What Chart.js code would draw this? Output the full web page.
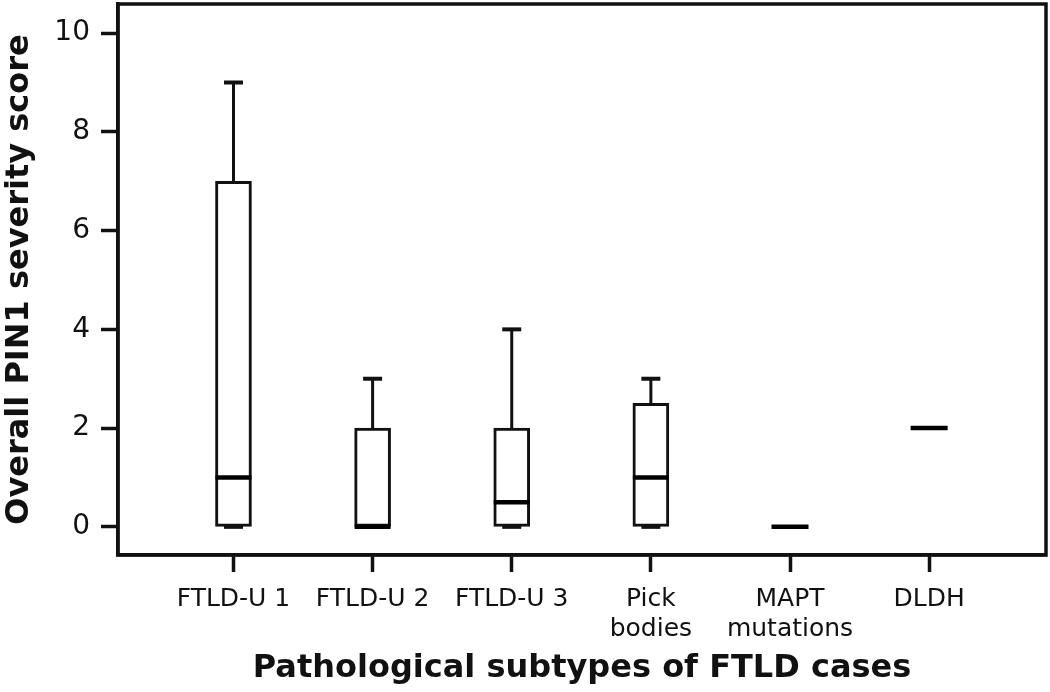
<!DOCTYPE html>
<html>
<head>
<meta charset="utf-8">
<script src="https://cdn.jsdelivr.net/npm/chart.js@4/dist/chart.umd.min.js"></script>
<style>
html,body{margin:0;padding:0;background:#fff;}
#wrap{width:1050px;height:692px;}
</style>
</head>
<body>
<div id="wrap"><canvas id="c" width="1050" height="692"></canvas></div>
<script>
const categories = ['FTLD-U 1', 'FTLD-U 2', 'FTLD-U 3', ['Pick', 'bodies'], ['MAPT', 'mutations'], 'DLDH'];
const positions = [1, 2, 3, 4, 5, 6];
const mins    = [0, 0, 0,   0,   0, 2];
const q1s     = [0, 0, 0,   0,   0, 2];
const medians = [1, 0, 0.5, 1,   0, 2];
const q3s     = [7, 2, 2,   2.5, 0, 2];
const maxs    = [9, 3, 4,   3,   0, 2];
const yTicks  = [0, 2, 4, 6, 8, 10];

const FONT = "'DejaVu Sans', 'Liberation Sans', sans-serif";
const INK = '#111';

const boxPlugin = {
  id: 'boxExtras',
  afterDatasetsDraw(chart) {
    const ctx = chart.ctx, xs = chart.scales.x, ys = chart.scales.y;
    ctx.save();
    ctx.strokeStyle = INK;
    positions.forEach((p, i) => {
      const x = xs.getPixelForValue(p);
      const half = 18, capHalf = 9.5;
      ctx.lineCap = 'butt';
      if (maxs[i] > q3s[i]) {
        ctx.lineWidth = 3;
        ctx.beginPath();
        ctx.moveTo(x, ys.getPixelForValue(q3s[i]));
        ctx.lineTo(x, ys.getPixelForValue(maxs[i]));
        ctx.stroke();
        ctx.lineWidth = 4;
        ctx.beginPath();
        ctx.moveTo(x - capHalf, ys.getPixelForValue(maxs[i]));
        ctx.lineTo(x + capHalf, ys.getPixelForValue(maxs[i]));
        ctx.stroke();
      }
      if (q3s[i] > q1s[i]) {
        if (mins[i] < q1s[i]) {
          ctx.lineWidth = 3;
          ctx.beginPath();
          ctx.moveTo(x, ys.getPixelForValue(q1s[i]));
          ctx.lineTo(x, ys.getPixelForValue(mins[i]));
          ctx.stroke();
        }
        ctx.lineWidth = 4;
        ctx.beginPath();
        ctx.moveTo(x - capHalf, ys.getPixelForValue(mins[i]));
        ctx.lineTo(x + capHalf, ys.getPixelForValue(mins[i]));
        ctx.stroke();
      }
      ctx.lineWidth = 4.5;
      ctx.strokeStyle = '#000';
      ctx.beginPath();
      const mh = (q3s[i] > q1s[i]) ? half : 18.5;
      ctx.moveTo(x - mh, ys.getPixelForValue(medians[i]));
      ctx.lineTo(x + mh, ys.getPixelForValue(medians[i]));
      ctx.stroke();
      ctx.strokeStyle = INK;
    });
    const a = chart.chartArea;
    ctx.lineWidth = 3.5;
    ctx.strokeStyle = INK;
    ctx.strokeRect(a.left, a.top, a.right - a.left, a.bottom - a.top);
    ctx.restore();
  }
};

const boxData = [];
positions.forEach((p, i) => { if (q3s[i] > q1s[i]) boxData.push({ x: p, y: [q1s[i], q3s[i]] }); });

new Chart(document.getElementById('c'), {
  type: 'bar',
  data: {
    datasets: [{
      data: boxData,
      backgroundColor: '#fff',
      borderColor: INK,
      borderWidth: 3,
      borderSkipped: false,
      barThickness: 36
    }]
  },
  options: {
    responsive: false,
    animation: false,
    devicePixelRatio: 1,
    layout: { padding: { top: 4, right: 4, left: 0, bottom: 0 } },
    plugins: { legend: { display: false }, tooltip: { enabled: false } },
    scales: {
      x: {
        type: 'linear',
        offset: false,
        min: 0.17,
        max: 6.84,
        afterBuildTicks: s => { s.ticks = positions.map(v => ({ value: v })); },
        afterFit: s => { s.height = 137; s.paddingLeft = 0; s.paddingRight = 0; },
        grid: { drawOnChartArea: false, drawTicks: true, tickLength: 17, tickWidth: 3.5, tickColor: INK, offset: false },
        border: { display: true, color: INK, width: 3.5 },
        ticks: {
          autoSkip: false, maxRotation: 0, padding: 12,
          color: '#111',
          font: { family: FONT, size: 25 },
          callback: (v) => categories[positions.indexOf(v)]
        },
        title: {
          display: true, text: 'Pathological subtypes of FTLD cases',
          color: '#111', font: { family: FONT, size: 32, weight: 'bold' },
          padding: { top: 0, bottom: 4 }
        }
      },
      y: {
        min: -0.57,
        max: 10.59,
        afterBuildTicks: s => { s.ticks = yTicks.map(v => ({ value: v })); },
        afterFit: s => { s.width = 118; s.paddingTop = 0; s.paddingBottom = 0; },
        grid: { drawOnChartArea: false, drawTicks: true, tickLength: 17, tickWidth: 3.5, tickColor: INK },
        border: { display: true, color: INK, width: 3.5 },
        ticks: {
          padding: 11, color: '#111',
          font: { family: FONT, size: 28 },
          callback: v => String(v)
        },
        title: {
          display: true, text: 'Overall PIN1 severity score',
          color: '#111', font: { family: FONT, size: 32, weight: 'bold' },
          padding: { top: 0, bottom: 0 }
        }
      }
    }
  },
  plugins: [boxPlugin]
});
</script>
</body>
</html>
